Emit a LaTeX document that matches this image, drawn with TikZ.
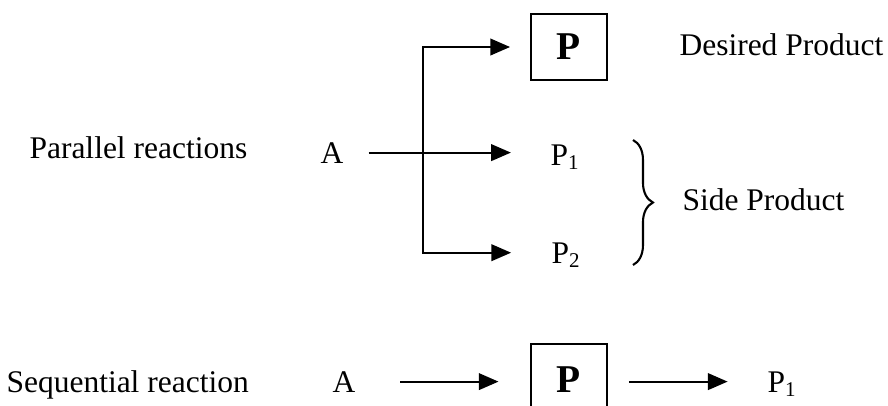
\documentclass[tikz,border=0pt]{standalone}
\usepackage{fontspec}
\setmainfont{Liberation Serif}
\usetikzlibrary{arrows.meta,decorations.pathreplacing}
\begin{document}
\begin{tikzpicture}[
    x=0.381pt, y=-0.381pt,
    txt/.style={inner sep=0pt, text depth=0pt, anchor=base west, font=\fontsize{12}{14}\selectfont},
    prod/.style={draw, line width=0.7pt, minimum width=29pt, inner sep=0pt, font=\fontsize{15}{18}\selectfont\bfseries},
    arr/.style={-{Triangle[length=7.5pt,width=6.3pt]}, line width=0.8pt},
    ln/.style={line width=0.8pt}
]
\useasboundingbox (0,0) rectangle (888,405);
\clip (0,0) rectangle (888,405);

% --- Parallel reactions ---
\node[txt] (plab) at (29,158) {Parallel reactions};
\node[txt] (pa) at (320,163) {A};
\node[prod, minimum height=25.1pt] (pp) at (569,47) {P};
\node[txt] (pp1) at (550,165) {P\textsubscript{1}};
\node[txt] (pp2) at (551,263) {P\textsubscript{2}};
\node[txt] (pdes) at (679,55) {Desired Product};
\node[txt] (pside) at (682,210) {Side Product};
\coordinate (fork) at (423,153);
\coordinate (btop) at (633,140);
\coordinate (bbot) at (633,265);
\draw[arr, shorten <=9.5pt, shorten >=14.9pt] (pa.east) -- (pa.east -| pp1.west);
\draw[arr, shorten >=7.6pt] (fork) |- (pp.west);
\draw[arr, shorten >=15.2pt] (fork) |- (pp2.west);
\draw[ln, decorate, decoration={brace, amplitude=7.6pt}] (btop) -- (bbot);

% --- Sequential reaction ---
\node[txt] (slab) at (6,392) {Sequential reaction};
\node[txt] (sa) at (332,392) {A};
\node[prod, minimum height=27.4pt] (sp) at (569,380) {P};
\node[txt] (sp1) at (767,392) {P\textsubscript{1}};
\draw[arr, shorten <=17pt, shorten >=12pt] (sa.east) -- (sa.east -| sp.west);
\draw[arr, shorten <=8pt, shorten >=15pt] (sa.east -| sp.east) -- (sa.east -| sp1.west);
\end{tikzpicture}
\end{document}
